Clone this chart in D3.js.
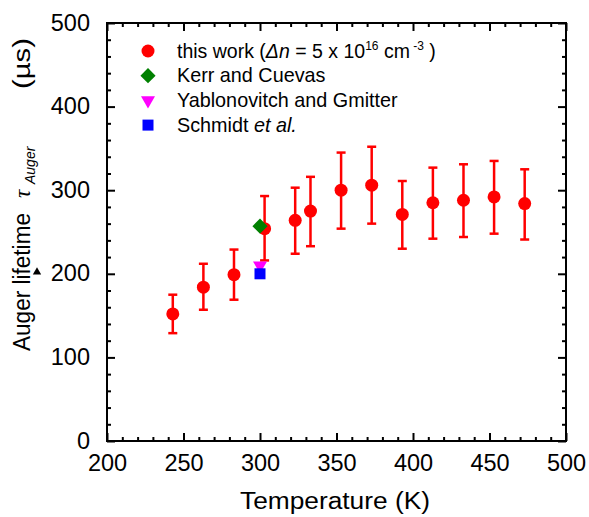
<!DOCTYPE html>
<html>
<head>
<meta charset="utf-8">
<script src="https://cdn.jsdelivr.net/npm/d3@7"></script>
<style>
  body { margin: 0; background: #fff; }
  svg { display: block; }
  text { font-family: "Liberation Sans", Arial, sans-serif; fill: #000; }
</style>
</head>
<body>
<div id="chart"></div>
<script>
// Data
const temps = [243, 263, 283, 303, 323, 333, 353, 373, 393, 413, 433, 453, 473];
const tau = [152, 184, 199, 254, 264, 275, 300, 306, 271, 285, 288, 292, 284];
const tauHi = [175, 212, 229, 293, 303, 316, 345, 352, 311, 327, 331, 335, 325];
const tauLo = [129, 157, 169, 216, 224, 233, 254, 260, 230, 242, 244, 248, 241];

const litNames = ["Kerr and Cuevas", "Yablonovitch and Gmitter", "Schmidt et al."];
const litT = [300, 300, 300];
const litTau = [257, 210, 200];

const xTicks = [200, 250, 300, 350, 400, 450, 500];
const yTicks = [0, 100, 200, 300, 400, 500];

const width = 589, height = 517;
const margin = { left: 107, right: 23, top: 23, bottom: 76 };
const plotW = width - margin.left - margin.right;
const plotH = height - margin.top - margin.bottom;

const svg = d3.select("#chart").append("svg")
  .attr("width", width)
  .attr("height", height);

const x = d3.scaleLinear().domain([200, 500]).range([margin.left, margin.left + plotW]);
const y = d3.scaleLinear().domain([0, 500]).range([margin.top + plotH, margin.top]);

const xMinor = d3.range(200, 501, 10).filter(d => d % 50 !== 0);
const yMinor = d3.range(0, 501, 20).filter(d => d % 100 !== 0);

// ---- axes (inward ticks on all four sides) ----
function drawAxis(gen, transform, labels) {
  const g = svg.append("g").attr("transform", transform).call(gen);
  g.select(".domain").remove();
  g.selectAll(".tick line").attr("stroke", "#000").attr("stroke-width", 2);
  if (!labels) g.selectAll(".tick text").remove();
  return g;
}

const bottomY = y(0), topY = y(500), leftX = x(200), rightX = x(500);

// major
const xb = drawAxis(d3.axisBottom(x).tickValues(xTicks).tickSizeInner(-8).tickSizeOuter(0).tickPadding(13),
  `translate(0,${bottomY})`, true);
drawAxis(d3.axisTop(x).tickValues(xTicks).tickSizeInner(-8).tickSizeOuter(0), `translate(0,${topY})`, false);
const yl = drawAxis(d3.axisLeft(y).tickValues(yTicks).tickSizeInner(-8).tickSizeOuter(0).tickPadding(17),
  `translate(${leftX},0)`, true);
drawAxis(d3.axisRight(y).tickValues(yTicks).tickSizeInner(-8).tickSizeOuter(0), `translate(${rightX},0)`, false);

// minor
drawAxis(d3.axisBottom(x).tickValues(xMinor).tickSizeInner(-4).tickSizeOuter(0), `translate(0,${bottomY})`, false);
drawAxis(d3.axisTop(x).tickValues(xMinor).tickSizeInner(-4).tickSizeOuter(0), `translate(0,${topY})`, false);
drawAxis(d3.axisLeft(y).tickValues(yMinor).tickSizeInner(-4).tickSizeOuter(0), `translate(${leftX},0)`, false);
drawAxis(d3.axisRight(y).tickValues(yMinor).tickSizeInner(-4).tickSizeOuter(0), `translate(${rightX},0)`, false);

xb.selectAll(".tick text").style("font-size", "23.5px").attr("fill", "#000");
yl.selectAll(".tick text").style("font-size", "23.5px").attr("fill", "#000").attr("dy", "0.3em");

// frame
svg.append("rect")
  .attr("x", leftX).attr("y", topY)
  .attr("width", rightX - leftX).attr("height", bottomY - topY)
  .attr("fill", "none").attr("stroke", "#000").attr("stroke-width", 2);

// ---- axis titles ----
svg.append("text")
  .attr("x", 240).attr("y", 509)
  .attr("textLength", 190).attr("lengthAdjust", "spacingAndGlyphs")
  .style("font-size", "23px")
  .text("Temperature (K)");

const yt = svg.append("text")
  .attr("transform", "translate(30,0) rotate(-90)")
  .style("font-size", "23px");
yt.append("tspan").attr("x", -351)
  .attr("textLength", 138).attr("lengthAdjust", "spacingAndGlyphs").text("Auger lifetime");
yt.append("tspan").attr("x", -198)
  .style("font-family", "'Liberation Serif', serif").style("font-style", "italic").text("τ");
yt.append("tspan").attr("x", -184).attr("dy", 5)
  .style("font-size", "14px").style("font-style", "italic").text("Auger");
yt.append("tspan").attr("x", -89).attr("dy", -5)
  .attr("textLength", 51).attr("lengthAdjust", "spacingAndGlyphs").text("(µs)");

// small stray marker under "lifetime"
svg.append("path")
  .attr("d", d3.symbol(d3.symbolTriangle, 30)())
  .attr("transform", "translate(37,272)")
  .attr("fill", "#000");

// ---- this work: error bars + circles ----
const red = "#ff0000";
const pts = temps.map((t, i) => ({ t, v: tau[i], hi: tauHi[i], lo: tauLo[i] }));
const eb = svg.append("g").attr("stroke", red).attr("stroke-width", 2.5);
eb.selectAll(".stem").data(pts).enter().append("line")
  .attr("x1", d => x(d.t)).attr("x2", d => x(d.t))
  .attr("y1", d => y(d.lo)).attr("y2", d => y(d.hi));
eb.selectAll(".capHi").data(pts).enter().append("line")
  .attr("x1", d => x(d.t) - 4.5).attr("x2", d => x(d.t) + 4.5)
  .attr("y1", d => y(d.hi)).attr("y2", d => y(d.hi));
eb.selectAll(".capLo").data(pts).enter().append("line")
  .attr("x1", d => x(d.t) - 4.5).attr("x2", d => x(d.t) + 4.5)
  .attr("y1", d => y(d.lo)).attr("y2", d => y(d.lo));
svg.append("g").selectAll("circle").data(pts).enter().append("circle")
  .attr("cx", d => x(d.t)).attr("cy", d => y(d.v)).attr("r", 6.5)
  .attr("fill", red);

// ---- literature values ----
const litColors = ["#008000", "#ff00ff", "#0000ff"];
const litSymbols = [
  { type: d3.symbolSquare, size: 115, rot: 45 },
  { type: d3.symbolTriangle, size: 85, rot: 180 },
  { type: d3.symbolSquare, size: 121, rot: 0 }
];
// triangle, then square, diamond on top
[1, 2, 0].forEach(i => {
  svg.append("path")
    .attr("d", d3.symbol(litSymbols[i].type, litSymbols[i].size)())
    .attr("transform", `translate(${x(litT[i])},${y(litTau[i])}) rotate(${litSymbols[i].rot})`)
    .attr("fill", litColors[i]);
});

// ---- legend ----
const legX = 148, legY0 = 51, legDy = 24.7, legTextX = 177;
const leg = svg.append("g");
leg.append("circle").attr("cx", legX).attr("cy", legY0).attr("r", 6.5).attr("fill", red);
litSymbols.forEach((s, i) => {
  leg.append("path")
    .attr("d", d3.symbol(s.type, s.size)())
    .attr("transform", `translate(${legX},${legY0 + legDy * (i + 1)}) rotate(${s.rot})`)
    .attr("fill", litColors[i]);
});

const l0 = leg.append("text").attr("x", legTextX).attr("y", legY0 + 6.5).style("font-size", "19.5px");
l0.append("tspan").text("this work (");
l0.append("tspan").style("font-style", "italic").text("Δn");
l0.append("tspan").text(" = 5 x 10");
l0.append("tspan").attr("dy", -8).style("font-size", "12px").text("16");
l0.append("tspan").attr("dy", 8).text(" cm");
l0.append("tspan").attr("dy", -8).style("font-size", "12px").text(" -3");
l0.append("tspan").attr("dy", 8).text(" )");

["Kerr and Cuevas", "Yablonovitch and Gmitter"].forEach((name, i) => {
  leg.append("text").attr("x", legTextX).attr("y", legY0 + legDy * (i + 1) + 6.5)
    .style("font-size", "19.8px").text(name);
});
const l3 = leg.append("text").attr("x", legTextX).attr("y", legY0 + legDy * 3 + 6.5).style("font-size", "19.8px");
l3.append("tspan").text("Schmidt ");
l3.append("tspan").style("font-style", "italic").text("et al.");
</script>
</body>
</html>
